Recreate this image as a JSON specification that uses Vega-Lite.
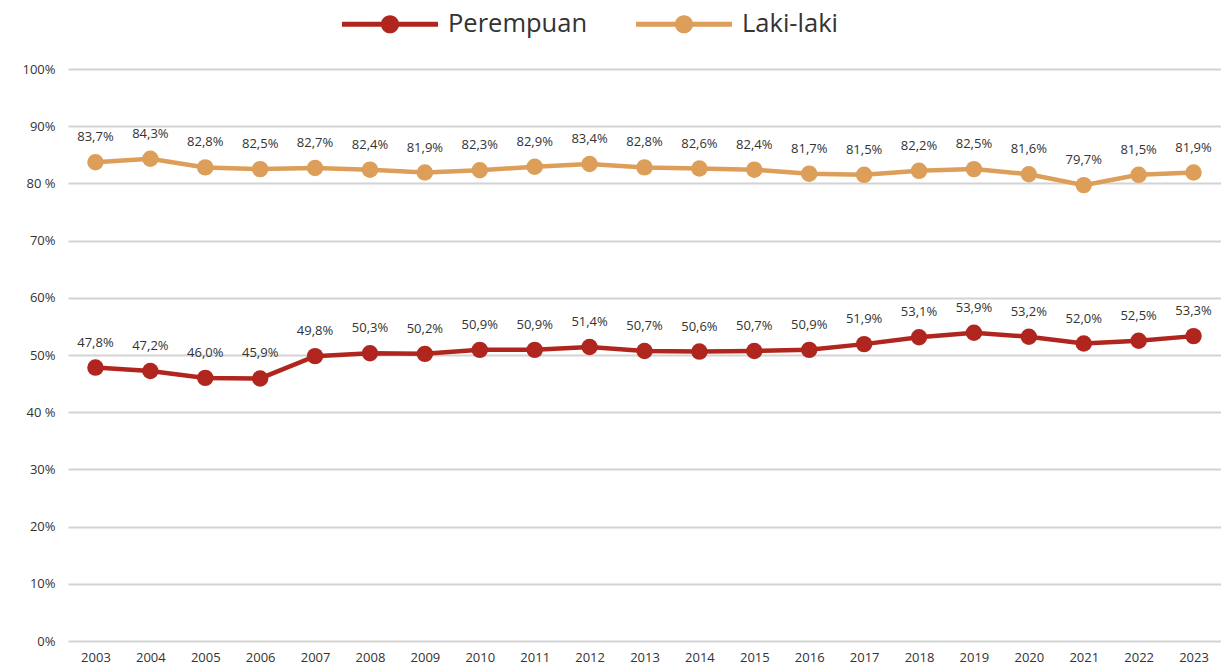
{
  "$schema": "https://vega.github.io/schema/vega-lite/v6.json",
  "width": 1153,
  "height": 572,
  "autosize": {"type": "none"},
  "padding": {"left": 68, "top": 69, "right": 0, "bottom": 25},
  "background": "white",
  "config": {
    "view": {"stroke": null},
    "font": "Open Sans",
    "locale": {"number": {"decimal": ",", "thousands": ".", "grouping": [3], "currency": ["", ""]}}
  },
  "data": {
    "values": [
      {"year": "2003", "group": "Perempuan", "value": 0.478},
      {"year": "2004", "group": "Perempuan", "value": 0.472},
      {"year": "2005", "group": "Perempuan", "value": 0.460},
      {"year": "2006", "group": "Perempuan", "value": 0.459},
      {"year": "2007", "group": "Perempuan", "value": 0.498},
      {"year": "2008", "group": "Perempuan", "value": 0.503},
      {"year": "2009", "group": "Perempuan", "value": 0.502},
      {"year": "2010", "group": "Perempuan", "value": 0.509},
      {"year": "2011", "group": "Perempuan", "value": 0.509},
      {"year": "2012", "group": "Perempuan", "value": 0.514},
      {"year": "2013", "group": "Perempuan", "value": 0.507},
      {"year": "2014", "group": "Perempuan", "value": 0.506},
      {"year": "2015", "group": "Perempuan", "value": 0.507},
      {"year": "2016", "group": "Perempuan", "value": 0.509},
      {"year": "2017", "group": "Perempuan", "value": 0.519},
      {"year": "2018", "group": "Perempuan", "value": 0.531},
      {"year": "2019", "group": "Perempuan", "value": 0.539},
      {"year": "2020", "group": "Perempuan", "value": 0.532},
      {"year": "2021", "group": "Perempuan", "value": 0.520},
      {"year": "2022", "group": "Perempuan", "value": 0.525},
      {"year": "2023", "group": "Perempuan", "value": 0.533},
      {"year": "2003", "group": "Laki-laki", "value": 0.837},
      {"year": "2004", "group": "Laki-laki", "value": 0.843},
      {"year": "2005", "group": "Laki-laki", "value": 0.828},
      {"year": "2006", "group": "Laki-laki", "value": 0.825},
      {"year": "2007", "group": "Laki-laki", "value": 0.827},
      {"year": "2008", "group": "Laki-laki", "value": 0.824},
      {"year": "2009", "group": "Laki-laki", "value": 0.819},
      {"year": "2010", "group": "Laki-laki", "value": 0.823},
      {"year": "2011", "group": "Laki-laki", "value": 0.829},
      {"year": "2012", "group": "Laki-laki", "value": 0.834},
      {"year": "2013", "group": "Laki-laki", "value": 0.828},
      {"year": "2014", "group": "Laki-laki", "value": 0.826},
      {"year": "2015", "group": "Laki-laki", "value": 0.824},
      {"year": "2016", "group": "Laki-laki", "value": 0.817},
      {"year": "2017", "group": "Laki-laki", "value": 0.815},
      {"year": "2018", "group": "Laki-laki", "value": 0.822},
      {"year": "2019", "group": "Laki-laki", "value": 0.825},
      {"year": "2020", "group": "Laki-laki", "value": 0.816},
      {"year": "2021", "group": "Laki-laki", "value": 0.797},
      {"year": "2022", "group": "Laki-laki", "value": 0.815},
      {"year": "2023", "group": "Laki-laki", "value": 0.819}
    ]
  },
  "encoding": {
    "x": {
      "field": "year", "type": "ordinal", "sort": null,
      "scale": {"type": "point", "padding": 0.5},
      "axis": {"title": null, "labelAngle": 0, "domain": false, "ticks": false, "labelFontSize": 13, "labelColor": "#333333", "labelPadding": 10}
    },
    "y": {
      "field": "value", "type": "quantitative",
      "scale": {"domain": [0, 1], "nice": false},
      "axis": {
        "title": null, "values": [0, 0.1, 0.2, 0.3, 0.4, 0.5, 0.6, 0.7, 0.8, 0.9, 1],
        "labelExpr": "(datum.value > 0.79 && datum.value < 0.81) || (datum.value > 0.39 && datum.value < 0.41) ? format(datum.value * 100, 'd') + ' %' : format(datum.value * 100, 'd') + '%'",
        "domain": false, "ticks": false, "labelPadding": 13, "labelFontSize": 13, "labelColor": "#333333",
        "gridColor": "#D3D3D3", "gridWidth": 2
      }
    },
    "color": {
      "field": "group", "type": "nominal",
      "scale": {"domain": ["Perempuan", "Laki-laki"], "range": ["#B0261E", "#DC9E58"]},
      "legend": {
        "title": null, "orient": "none", "direction": "horizontal", "columns": 2,
        "legendX": 274, "legendY": -93,
        "symbolType": "M-1,-0.05 H1 V0.05 H-1 Z M0,-0.19 A0.19,0.19 0 1,1 0,0.19 A0.19,0.19 0 1,1 0,-0.19 Z",
        "symbolSize": 9216, "symbolStrokeWidth": 0, "symbolOpacity": 1,
        "labelFontSize": 25.5, "labelColor": "#333333", "labelOffset": 10, "columnPadding": 48
      }
    }
  },
  "layer": [
    {"mark": {"type": "line", "strokeWidth": 4.5}},
    {"mark": {"type": "point", "filled": true, "size": 270, "opacity": 1}},
    {
      "mark": {"type": "text", "dy": -25, "fontSize": 13, "color": "#333333"},
      "encoding": {
        "text": {"field": "value", "type": "quantitative", "format": ".1%"},
        "color": {"value": "#333333"}
      }
    }
  ]
}
